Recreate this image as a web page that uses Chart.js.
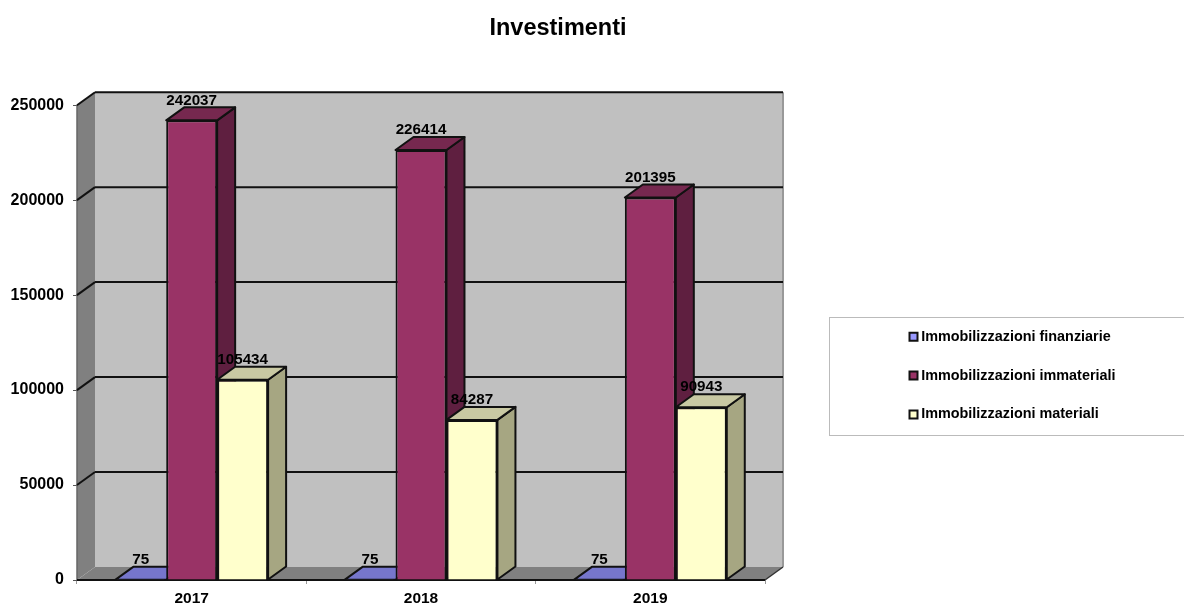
<!DOCTYPE html>
<html>
<head>
<meta charset="utf-8">
<title>Investimenti</title>
<script src="https://cdn.jsdelivr.net/npm/chart.js@4"></script>
<style>
  html, body { margin: 0; background: #fff; }
  canvas { display: block; }
</style>
</head>
<body>
<canvas id="grafico" width="1184" height="604"></canvas>
<script>
const anni = ['2017', '2018', '2019'];
const finanziarie = [75, 75, 75];
const immateriali = [242037, 226414, 201395];
const materiali = [105434, 84287, 90943];

// depth of the fake 3D box, in pixels
const DX = 18;
const DY = -13;

const font = { family: '"Liberation Sans", Arial, sans-serif', weight: 'bold' };

const facce = [
  { side: '#4c4c80', top: '#7676cc' },
  { side: '#5f1f40', top: '#76284f' },
  { side: '#a6a682', top: '#c9c9a3' }
];

function poly(ctx, pts, fill, stroke, lw) {
  ctx.beginPath();
  pts.forEach((p, i) => i ? ctx.lineTo(p[0], p[1]) : ctx.moveTo(p[0], p[1]));
  ctx.closePath();
  if (fill) { ctx.fillStyle = fill; ctx.fill(); }
  if (stroke) { ctx.strokeStyle = stroke; ctx.lineWidth = lw; ctx.stroke(); }
}

function line(ctx, x1, y1, x2, y2, color, lw) {
  ctx.beginPath();
  ctx.moveTo(x1, y1);
  ctx.lineTo(x2, y2);
  ctx.strokeStyle = color;
  ctx.lineWidth = lw;
  ctx.stroke();
}

const box3d = {
  id: 'box3d',
  // legend keeps a fixed slot so the plot area does not depend on text width
  beforeLayout(chart) {
    const leg = chart.legend;
    leg.fit = function () {
      leg.constructor.prototype.fit.call(leg);
      leg.width = 351;
    };
  },
  afterLayout(chart) {
    const leg = chart.legend;
    leg.left = 888.5;
    leg.right = 1184;
    leg.top = 305;
    leg.bottom = 600;
  },
  beforeDraw(chart) {
    // legend frame, runs off the right edge
    const { ctx } = chart;
    ctx.save();
    ctx.strokeStyle = '#bbb';
    ctx.lineWidth = 1;
    ctx.strokeRect(829.5, 317.5, 400, 118);
    ctx.restore();
  },
  // walls, floor and grid lines
  beforeDatasetsDraw(chart) {
    const { ctx, chartArea: a, scales: { y } } = chart;
    const top = y.getPixelForValue(250000);
    const bot = y.getPixelForValue(0);
    ctx.save();
    poly(ctx, [[a.left + DX, top + DY], [a.right + DX, top + DY], [a.right + DX, bot + DY], [a.left + DX, bot + DY]], '#c0c0c0');
    poly(ctx, [[a.left, top], [a.left + DX, top + DY], [a.left + DX, bot + DY], [a.left, bot]], '#808080');
    poly(ctx, [[a.left, bot], [a.left + DX, bot + DY], [a.right + DX, bot + DY], [a.right, bot]], '#808080');
    line(ctx, a.left, top, a.left, bot, '#666', 1.5);
    line(ctx, a.right + DX, top + DY, a.right + DX, bot + DY, '#999', 2);
    y.ticks.forEach(t => {
      if (t.value === 0) return;
      const py = y.getPixelForValue(t.value);
      line(ctx, a.left, py, a.left + DX, py + DY, '#111', 2);
      line(ctx, a.left + DX, py + DY, a.right + DX, py + DY, '#111', 2);
    });
    line(ctx, a.right, bot, a.right + DX, bot + DY, '#333', 1.5);
    line(ctx, a.left, bot, a.right, bot, '#111', 2);
    ctx.restore();
  },
  // the library paints the last dataset first, here the bars must go left to right
  beforeDatasetDraw() {
    return false;
  },
  afterDatasetsDraw(chart) {
    const { ctx } = chart;
    ctx.save();
    ctx.lineJoin = 'round';
    chart.getSortedVisibleDatasetMetas().forEach(meta => {
      const f = facce[meta.index];
      meta.data.forEach(bar => {
        const l = bar.x - bar.width / 2;
        const r = bar.x + bar.width / 2;
        poly(ctx, [[r, bar.y], [r + DX, bar.y + DY], [r + DX, bar.base + DY], [r, bar.base]], f.side, '#111', 2);
        poly(ctx, [[l, bar.y], [l + DX, bar.y + DY], [r + DX, bar.y + DY], [r, bar.y]], f.top, '#111', 2);
      });
      meta.controller.draw();
    });

    // value labels
    ctx.font = 'bold 15.2px ' + font.family;
    ctx.fillStyle = '#000';
    ctx.textAlign = 'center';
    ctx.textBaseline = 'middle';
    chart.data.datasets.forEach((ds, i) => {
      chart.getDatasetMeta(i).data.forEach((bar, j) => {
        ctx.fillText(ds.data[j], bar.x, bar.y - 20);
      });
    });
    ctx.restore();
  }
};

new Chart(document.getElementById('grafico'), {
  type: 'bar',
  plugins: [box3d],
  data: {
    labels: anni,
    datasets: [
      { label: 'Immobilizzazioni finanziarie', data: finanziarie, backgroundColor: '#9999ff' },
      { label: 'Immobilizzazioni immateriali', data: immateriali, backgroundColor: '#993366' },
      { label: 'Immobilizzazioni materiali', data: materiali, backgroundColor: '#ffffcc' }
    ].map(d => ({ ...d, borderColor: '#111', borderWidth: 2 }))
  },
  options: {
    responsive: false,
    animation: false,
    events: [],
    layout: { padding: { left: 0, right: 68, top: 0, bottom: 0 } },
    datasets: { bar: { categoryPercentage: 2 / 3, barPercentage: 1 } },
    plugins: {
      title: {
        display: true,
        text: 'Investimenti',
        color: '#000',
        font: { ...font, size: 23.5 },
        padding: { top: 14, bottom: 63 }
      },
      legend: {
        position: 'right',
        align: 'start',
        fullSize: false,
        labels: {
          color: '#000',
          font: { ...font, size: 14.4 },
          usePointStyle: true,
          pointStyle: 'rect',
          boxWidth: 1,
          boxHeight: 8,
          padding: 24.5
        }
      },
      tooltip: { enabled: false }
    },
    scales: {
      x: {
        afterFit(scale) { scale.height = 24; },
        border: { display: false },
        grid: { drawOnChartArea: false, color: '#999', lineWidth: 1, tickLength: 4 },
        ticks: { color: '#000', font: { ...font, size: 15.5 }, padding: 5, maxRotation: 0, autoSkip: false }
      },
      y: {
        min: 0,
        max: 250000,
        afterFit(scale) { scale.width = 77; },
        border: { display: false },
        grid: { drawOnChartArea: false, color: '#555', lineWidth: 1, tickLength: 4 },
        ticks: { stepSize: 50000, color: '#000', font: { ...font, size: 16 }, padding: 9, callback: v => String(v) }
      }
    }
  }
});
</script>
</body>
</html>
